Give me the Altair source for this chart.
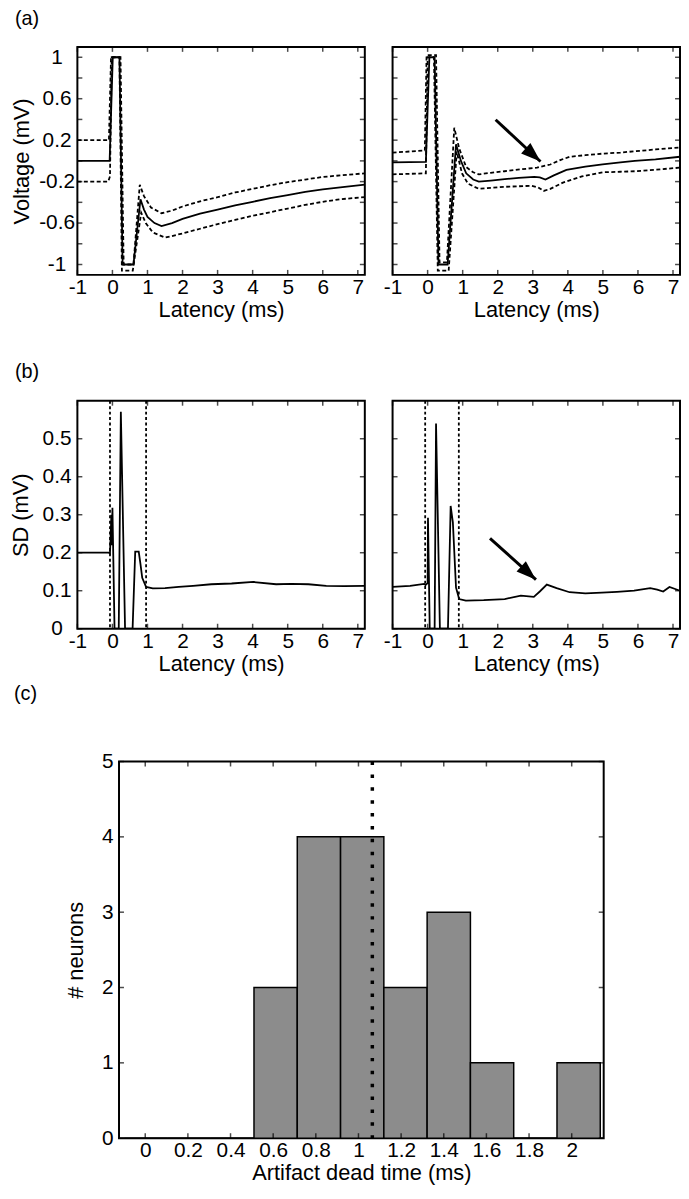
import altair as alt
import pandas as pd

FONT = "Liberation Sans"
BLACK = "black"

# ---------------- tick values ----------------
lat_ticks = [-1, 0, 1, 2, 3, 4, 5, 6, 7]
volt_ticks = [-1, -0.8, -0.6, -0.4, -0.2, 0, 0.2, 0.4, 0.6, 0.8, 1]
volt_labels = [-1, -0.6, -0.2, 0.2, 0.6, 1]
sd_ticks = [0, 0.1, 0.2, 0.3, 0.4, 0.5]
dead_ticks = [0, 0.2, 0.4, 0.6, 0.8, 1, 1.2, 1.4, 1.6, 1.8, 2]
count_ticks = [0, 1, 2, 3, 4, 5]

# ---------------- (a) left: mean voltage and +/- SD ----------------
aL_mean_t = [-1, -0.08, 0.01, 0.2, 0.29, 0.6, 0.8, 0.9, 1.0, 1.2, 1.4, 1.7, 2, 2.5, 3, 3.5, 4, 4.5, 5, 5.5, 6, 6.5, 7.2]
aL_mean_v = [0, 0, 1, 1, -1, -1, -0.37, -0.47, -0.54, -0.6, -0.63, -0.6, -0.56, -0.51, -0.47, -0.43, -0.395, -0.36, -0.33, -0.3, -0.275, -0.255, -0.23]
aL_up_t = [-1, -0.1, -0.04, 0.23, 0.32, 0.6, 0.78, 0.9, 1.1, 1.4, 1.7, 2, 2.5, 3, 3.5, 4, 4.5, 5, 5.5, 6, 6.5, 7.2]
aL_up_v = [0.2, 0.2, 1.0, 1.0, -1.0, -1.0, -0.23, -0.34, -0.45, -0.505, -0.48, -0.44, -0.39, -0.35, -0.305, -0.27, -0.235, -0.205, -0.18, -0.155, -0.14, -0.12]
aL_lo_t = [-1, -0.12, -0.07, -0.02, 0.2, 0.27, 0.58, 0.82, 0.95, 1.15, 1.5, 1.7, 2, 2.5, 3, 3.5, 4, 4.5, 5, 5.5, 6, 6.5, 7.2]
aL_lo_v = [-0.2, -0.2, -0.15, 1.0, 1.0, -1.06, -1.06, -0.5, -0.6, -0.69, -0.74, -0.725, -0.7, -0.655, -0.61, -0.57, -0.53, -0.495, -0.46, -0.425, -0.395, -0.37, -0.35]

# ---------------- (a) right ----------------
aR_mean_t = [-1, -0.05, 0.05, 0.2, 0.31, 0.57, 0.81, 0.95, 1.1, 1.3, 1.46, 1.8, 2.2, 2.6, 3.04, 3.2, 3.36, 3.6, 3.96, 4.5, 4.99, 5.5, 5.91, 6.5, 7.2]
aR_mean_v = [-0.015, -0.01, 1.0, 1.0, -1.0, -1.0, 0.16, 0.0, -0.12, -0.18, -0.2, -0.19, -0.176, -0.165, -0.155, -0.16, -0.18, -0.14, -0.087, -0.055, -0.033, -0.015, 0.0, 0.015, 0.04]
aR_up_t = [-1, -0.08, -0.03, 0.24, 0.34, 0.55, 0.76, 0.9, 1.1, 1.3, 1.46, 1.8, 2.2, 2.7, 3.12, 3.5, 3.8, 4.06, 4.5, 4.99, 5.5, 5.91, 6.5, 7.2]
aR_up_v = [0.08, 0.1, 1.02, 1.02, -0.98, -0.98, 0.32, 0.12, -0.06, -0.11, -0.13, -0.115, -0.1, -0.08, -0.065, -0.035, 0.01, 0.04, 0.055, 0.07, 0.08, 0.093, 0.11, 0.13]
aR_lo_t = [-1, -0.05, 0.0, 0.18, 0.29, 0.6, 0.83, 0.98, 1.15, 1.46, 1.8, 2.2, 2.6, 2.95, 3.15, 3.31, 3.5, 3.86, 4.4, 4.99, 5.5, 5.91, 6.5, 7.2]
aR_lo_v = [-0.13, -0.12, 1.0, 1.0, -1.06, -1.06, 0.09, -0.12, -0.22, -0.27, -0.26, -0.25, -0.245, -0.24, -0.255, -0.29, -0.27, -0.21, -0.15, -0.11, -0.105, -0.1, -0.085, -0.065]
aR_arrow_t = [1.94, 3.22]
aR_arrow_v = [0.397, -0.006]

# ---------------- (b) SD traces ----------------
bL_t = [-1, -0.5, -0.1, -0.07, -0.03, -0.02, 0.0, 0.06, 0.18, 0.24, 0.36, 0.575, 0.65, 0.75, 0.8, 0.85, 0.96, 1.15, 1.5, 1.89, 2.3, 2.82, 3.4, 4.02, 4.67, 5.1, 5.59, 6.1, 6.61, 7.2]
bL_v = [0.2, 0.2, 0.2, 0.198, 0.3, 0.22, 0.318, 0.0, 0.0, 0.571, 0.0, 0.0, 0.203, 0.203, 0.17, 0.134, 0.11, 0.106, 0.107, 0.11, 0.113, 0.117, 0.119, 0.123, 0.117, 0.118, 0.117, 0.113, 0.112, 0.113]
bL_cut = [-0.07, 0.96]
bR_t = [-1, -0.5, -0.1, -0.06, 0.0, 0.01, 0.06, 0.2, 0.24, 0.35, 0.58, 0.657, 0.72, 0.81, 0.9, 1.09, 1.6, 2.2, 2.66, 3.03, 3.2, 3.4, 3.68, 4.05, 4.5, 4.97, 5.4, 5.89, 6.35, 6.55, 6.72, 6.9, 7.2]
bR_v = [0.11, 0.113, 0.118, 0.115, 0.12, 0.292, 0.0, 0.0, 0.54, 0.0, 0.0, 0.323, 0.28, 0.108, 0.078, 0.074, 0.075, 0.078, 0.087, 0.084, 0.098, 0.116, 0.107, 0.096, 0.093, 0.095, 0.097, 0.1, 0.107, 0.103, 0.098, 0.11, 0.1]
bR_cut = [-0.07, 0.89]
bR_arrow_t = [1.78, 3.09]
bR_arrow_v = [0.238, 0.129]

# ---------------- (c) histogram ----------------
bin_lo = [-0.099, 0.104, 0.307, 0.51, 0.713, 0.916, 1.119, 1.322, 1.525, 1.728, 1.931]
bin_hi = [0.104, 0.307, 0.51, 0.713, 0.916, 1.119, 1.322, 1.525, 1.728, 1.931, 2.134]
counts = [0, 0, 0, 2, 4, 4, 2, 3, 1, 0, 1]
mean_dead = [1.065]

# ---------------- layout ----------------
W_AB = 290
H_A = 230
H_B = 230
W_C = 489
H_C = 380
TICK = 5
ARROW_PATH = "M0,0L0.35,1L-0.35,1Z"
DASH = [4, 2.5]
LBL = "'' + datum.value"

lat_scale = alt.Scale(domain=[-1, 7.2], nice=False, zero=False)
volt_scale = alt.Scale(domain=[-1.1, 1.1], nice=False, zero=False)
sd_scale = alt.Scale(domain=[0, 0.6], nice=False, zero=False)
dead_scale = alt.Scale(domain=[-0.123, 2.15], nice=False, zero=False)
cnt_scale = alt.Scale(domain=[0, 5], nice=False, zero=False)

lat_axis = alt.Axis(values=lat_ticks, title="Latency (ms)", labelExpr=LBL,
                    labelFlush=False, labelOverlap=False, labelPadding=2, titlePadding=2)
volt_axis = alt.Axis(values=volt_labels, title="Voltage (mV)", labelExpr=LBL,
                     labelAlign="center", labelPadding=21, titlePadding=5)
sd_axis = alt.Axis(values=sd_ticks, title="SD (mV)", labelExpr=LBL,
                   labelAlign="center", labelPadding=21, titlePadding=10)
dead_axis = alt.Axis(values=dead_ticks, title="Artifact dead time (ms)", labelExpr=LBL,
                     labelFlush=False, labelOverlap=False, labelPadding=2, titlePadding=2)
cnt_axis = alt.Axis(values=count_ticks, title="# neurons", labelExpr=LBL,
                    labelPadding=6, titlePadding=14)


def X(xs, xa, field="t"):
    return alt.X(f"{field}:Q", scale=xs, axis=xa)


def Y(ys, ya, field="v"):
    return alt.Y(f"{field}:Q", scale=ys, axis=ya)


def frame_ticks(W, H, xvals, xs, xa, yvals, ys, ya):
    xdf = pd.DataFrame({"t": xvals})
    ydf = pd.DataFrame({"v": yvals})
    bx = alt.Chart(xdf).mark_tick(color=BLACK, thickness=1.5, size=TICK, orient="vertical")
    by = alt.Chart(ydf).mark_tick(color=BLACK, thickness=1.5, size=TICK, orient="horizontal")
    return [
        bx.encode(x=X(xs, xa), y=alt.value(H - TICK / 2)),
        bx.encode(x=X(xs, xa), y=alt.value(TICK / 2)),
        by.encode(y=Y(ys, ya), x=alt.value(TICK / 2)),
        by.encode(y=Y(ys, ya), x=alt.value(W - TICK / 2)),
    ]


def curve(t, v, xs, xa, ys, ya, dash=None, width=1.8):
    df = pd.DataFrame({"t": t, "v": v})
    kw = dict(color=BLACK, strokeWidth=width, clip=True)
    if dash:
        kw["strokeDash"] = dash
    return alt.Chart(df).mark_line(**kw).encode(x=X(xs, xa), y=Y(ys, ya))


def arrow(t, v, xs, xa, ys, ya):
    shaft = curve(t, v, xs, xa, ys, ya, width=3)
    tip = pd.DataFrame({"t": [t[-1]], "v": [v[-1]]})
    head = alt.Chart(tip).mark_point(shape=ARROW_PATH, filled=True, color=BLACK,
                                     opacity=1, size=1600, angle=132).encode(
        x=X(xs, xa), y=Y(ys, ya))
    return [shaft, head]


def cut_lines(vals, xs, xa):
    return alt.Chart(pd.DataFrame({"t": vals})).mark_rule(
        color=BLACK, strokeWidth=1.8, strokeDash=[3, 2.5]).encode(x=X(xs, xa))


# (a) left
aL = alt.layer(
    curve(aL_mean_t, aL_mean_v, lat_scale, lat_axis, volt_scale, volt_axis),
    curve(aL_up_t, aL_up_v, lat_scale, lat_axis, volt_scale, volt_axis, dash=DASH),
    curve(aL_lo_t, aL_lo_v, lat_scale, lat_axis, volt_scale, volt_axis, dash=DASH),
    *frame_ticks(W_AB, H_A, lat_ticks, lat_scale, lat_axis, volt_ticks, volt_scale, volt_axis),
).properties(width=W_AB, height=H_A,
             title=alt.Title("(a)", anchor="start", frame="group", dx=-63, offset=18))

# (a) right
aR = alt.layer(
    curve(aR_mean_t, aR_mean_v, lat_scale, lat_axis, volt_scale, None),
    curve(aR_up_t, aR_up_v, lat_scale, lat_axis, volt_scale, None, dash=DASH),
    curve(aR_lo_t, aR_lo_v, lat_scale, lat_axis, volt_scale, None, dash=DASH),
    *arrow(aR_arrow_t, aR_arrow_v, lat_scale, lat_axis, volt_scale, None),
    *frame_ticks(W_AB, H_A, lat_ticks, lat_scale, lat_axis, volt_ticks, volt_scale, None),
).properties(width=W_AB, height=H_A)

# (b) left
bL = alt.layer(
    curve(bL_t, bL_v, lat_scale, lat_axis, sd_scale, sd_axis),
    cut_lines(bL_cut, lat_scale, lat_axis),
    *frame_ticks(W_AB, H_B, lat_ticks, lat_scale, lat_axis, sd_ticks, sd_scale, sd_axis),
).properties(width=W_AB, height=H_B,
             title=alt.Title("(b)", anchor="start", frame="group", dx=-63, offset=18))

# (b) right
bR = alt.layer(
    curve(bR_t, bR_v, lat_scale, lat_axis, sd_scale, None),
    cut_lines(bR_cut, lat_scale, lat_axis),
    *arrow(bR_arrow_t, bR_arrow_v, lat_scale, lat_axis, sd_scale, None),
    *frame_ticks(W_AB, H_B, lat_ticks, lat_scale, lat_axis, sd_ticks, sd_scale, None),
).properties(width=W_AB, height=H_B)

# (c) histogram
hist_df = pd.DataFrame({"t": bin_lo, "hi": bin_hi, "v": counts})
bars = alt.Chart(hist_df).mark_rect(fill="#8c8c8c", stroke=BLACK, strokeWidth=1.5).encode(
    x=X(dead_scale, dead_axis),
    x2="hi:Q",
    y=Y(cnt_scale, cnt_axis),
    y2=alt.datum(0),
)
mean_rule = alt.Chart(pd.DataFrame({"t": mean_dead})).mark_rule(
    color=BLACK, strokeWidth=3.5, strokeDash=[3.5, 9.5]).encode(x=X(dead_scale, dead_axis))
c = alt.layer(
    bars, mean_rule,
    *frame_ticks(W_C, H_C, dead_ticks, dead_scale, dead_axis, count_ticks, cnt_scale, cnt_axis),
).properties(width=W_C, height=H_C,
             title=alt.Title("(c)", anchor="start", frame="group", dx=-106, offset=47))

spacer = alt.Chart(pd.DataFrame({"t": [0]})).mark_point(opacity=0).encode(
    x=alt.X("t:Q", axis=None), y=alt.Y("t:Q", axis=None)
).properties(width=1, height=H_C, view=alt.ViewBackground(stroke="transparent"))

rowA = alt.hconcat(aL, aR, spacing=28, bounds="flush")
rowB = alt.hconcat(bL, bR, spacing=28, bounds="flush")
rowC = alt.hconcat(spacer, c, spacing=41, bounds="flush")
topAB = alt.vconcat(rowA, rowB, spacing=40)

chart = alt.vconcat(topAB, rowC, spacing=8).properties(
    padding={"top": -6, "left": 0, "right": 0, "bottom": -5}
).configure_axis(
    grid=False, domain=False, ticks=False,
    labelFont=FONT, labelFontSize=21, labelColor=BLACK,
    titleFont=FONT, titleFontSize=22, titleFontWeight="normal", titleColor=BLACK,
).configure_view(
    stroke=BLACK, strokeWidth=2
).configure_title(
    font=FONT, fontSize=20, fontWeight="normal", color=BLACK
)

chart.save("out.html", embed_options={"renderer": "svg", "actions": False})
